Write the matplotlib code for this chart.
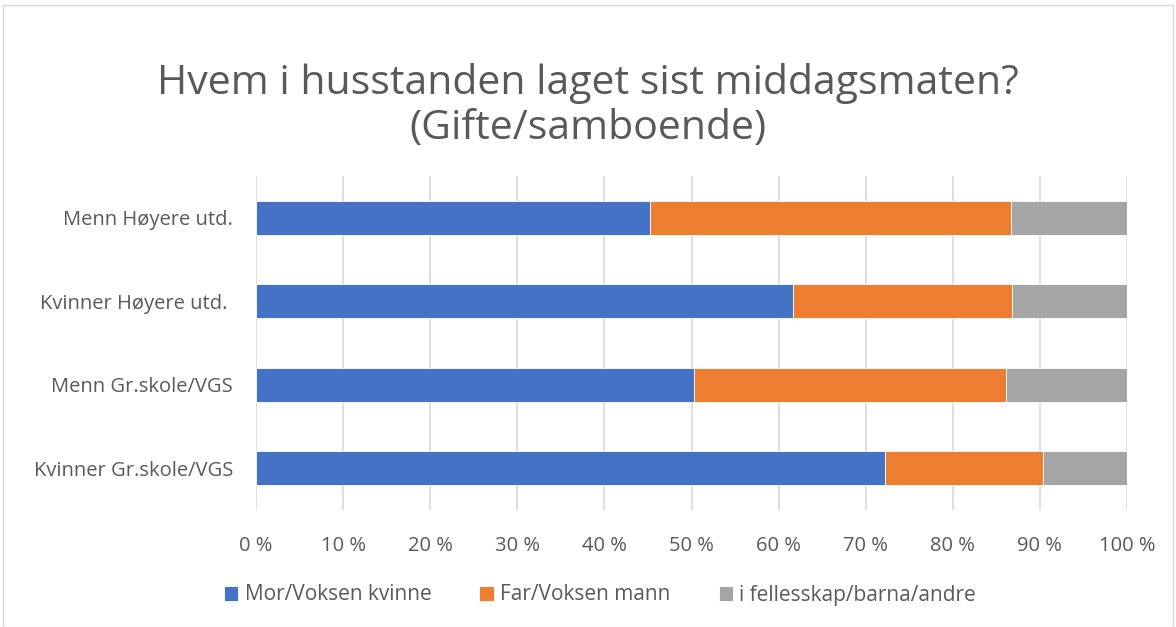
import matplotlib
matplotlib.use("Agg")
import matplotlib.pyplot as plt
from matplotlib.patches import Rectangle

categories = ["Kvinner Gr.skole/VGS", "Menn Gr.skole/VGS", "Kvinner Høyere utd. ", "Menn Høyere utd."]
mor = [72.2, 50.3, 61.7, 45.2]
far = [18.1, 35.8, 25.1, 41.5]
felles = [9.7, 13.9, 13.2, 13.3]
series_labels = ["Mor/Voksen kvinne", "Far/Voksen mann", "i fellesskap/barna/andre"]
colors = ["#4472C4", "#ED7D31", "#A5A5A5"]
xticks = list(range(0, 101, 10))

plt.rcParams["font.family"] = ["Open Sans", "DejaVu Sans"]
TXT = "#595959"

fig = plt.figure(figsize=(11.76, 6.27), dpi=100)
ax = fig.add_axes([256 / 1176, 1 - 510 / 627, (1127 - 256) / 1176, 334 / 627])

y = list(range(len(categories)))
left = [0] * len(categories)
for vals, lab, col in zip([mor, far, felles], series_labels, colors):
    ax.barh(y, vals, left=left, height=0.41, color=col, label=lab,
            edgecolor="white", linewidth=0.6, zorder=3)
    left = [a + b for a, b in zip(left, vals)]

ax.set_xlim(0, 100)
ax.set_ylim(-0.5, len(categories) - 0.5)
ax.set_yticks(y)
ax.set_yticklabels(categories, fontsize=14.5, color=TXT)
ax.set_xticks(xticks)
ax.set_xticklabels([f"{t} %" for t in xticks], fontsize=14.5, color=TXT)
ax.tick_params(axis="both", length=0)
ax.tick_params(axis="x", pad=19)
ax.tick_params(axis="y", pad=16.5)
ax.grid(axis="x", color="#D9D9D9", linewidth=1.2, zorder=0)
for s in ax.spines.values():
    s.set_visible(False)

fig.text(0.5, 1 - 83 / 627, "Hvem i husstanden laget sist middagsmaten?",
         ha="center", va="center", fontsize=29.5, color=TXT)
fig.text(0.5, 1 - 129 / 627, "(Gifte/samboende)",
         ha="center", va="center", fontsize=29.5, color=TXT)

handles, labels = ax.get_legend_handles_labels()
fig.legend(handles, labels, loc="center", bbox_to_anchor=(600 / 1176, 1 - 595 / 627),
           ncol=3, frameon=False, fontsize=15, labelcolor=TXT,
           handlelength=0.7, handleheight=0.7, handletextpad=0.3, columnspacing=2.3)

fig.patches.append(Rectangle((3 / 1176, 0), 1 - 6 / 1176, 1 - 5 / 627, transform=fig.transFigure,
                             fill=False, edgecolor="#D9D9D9", linewidth=1))

fig.savefig("out.png", dpi=100, facecolor="white")
